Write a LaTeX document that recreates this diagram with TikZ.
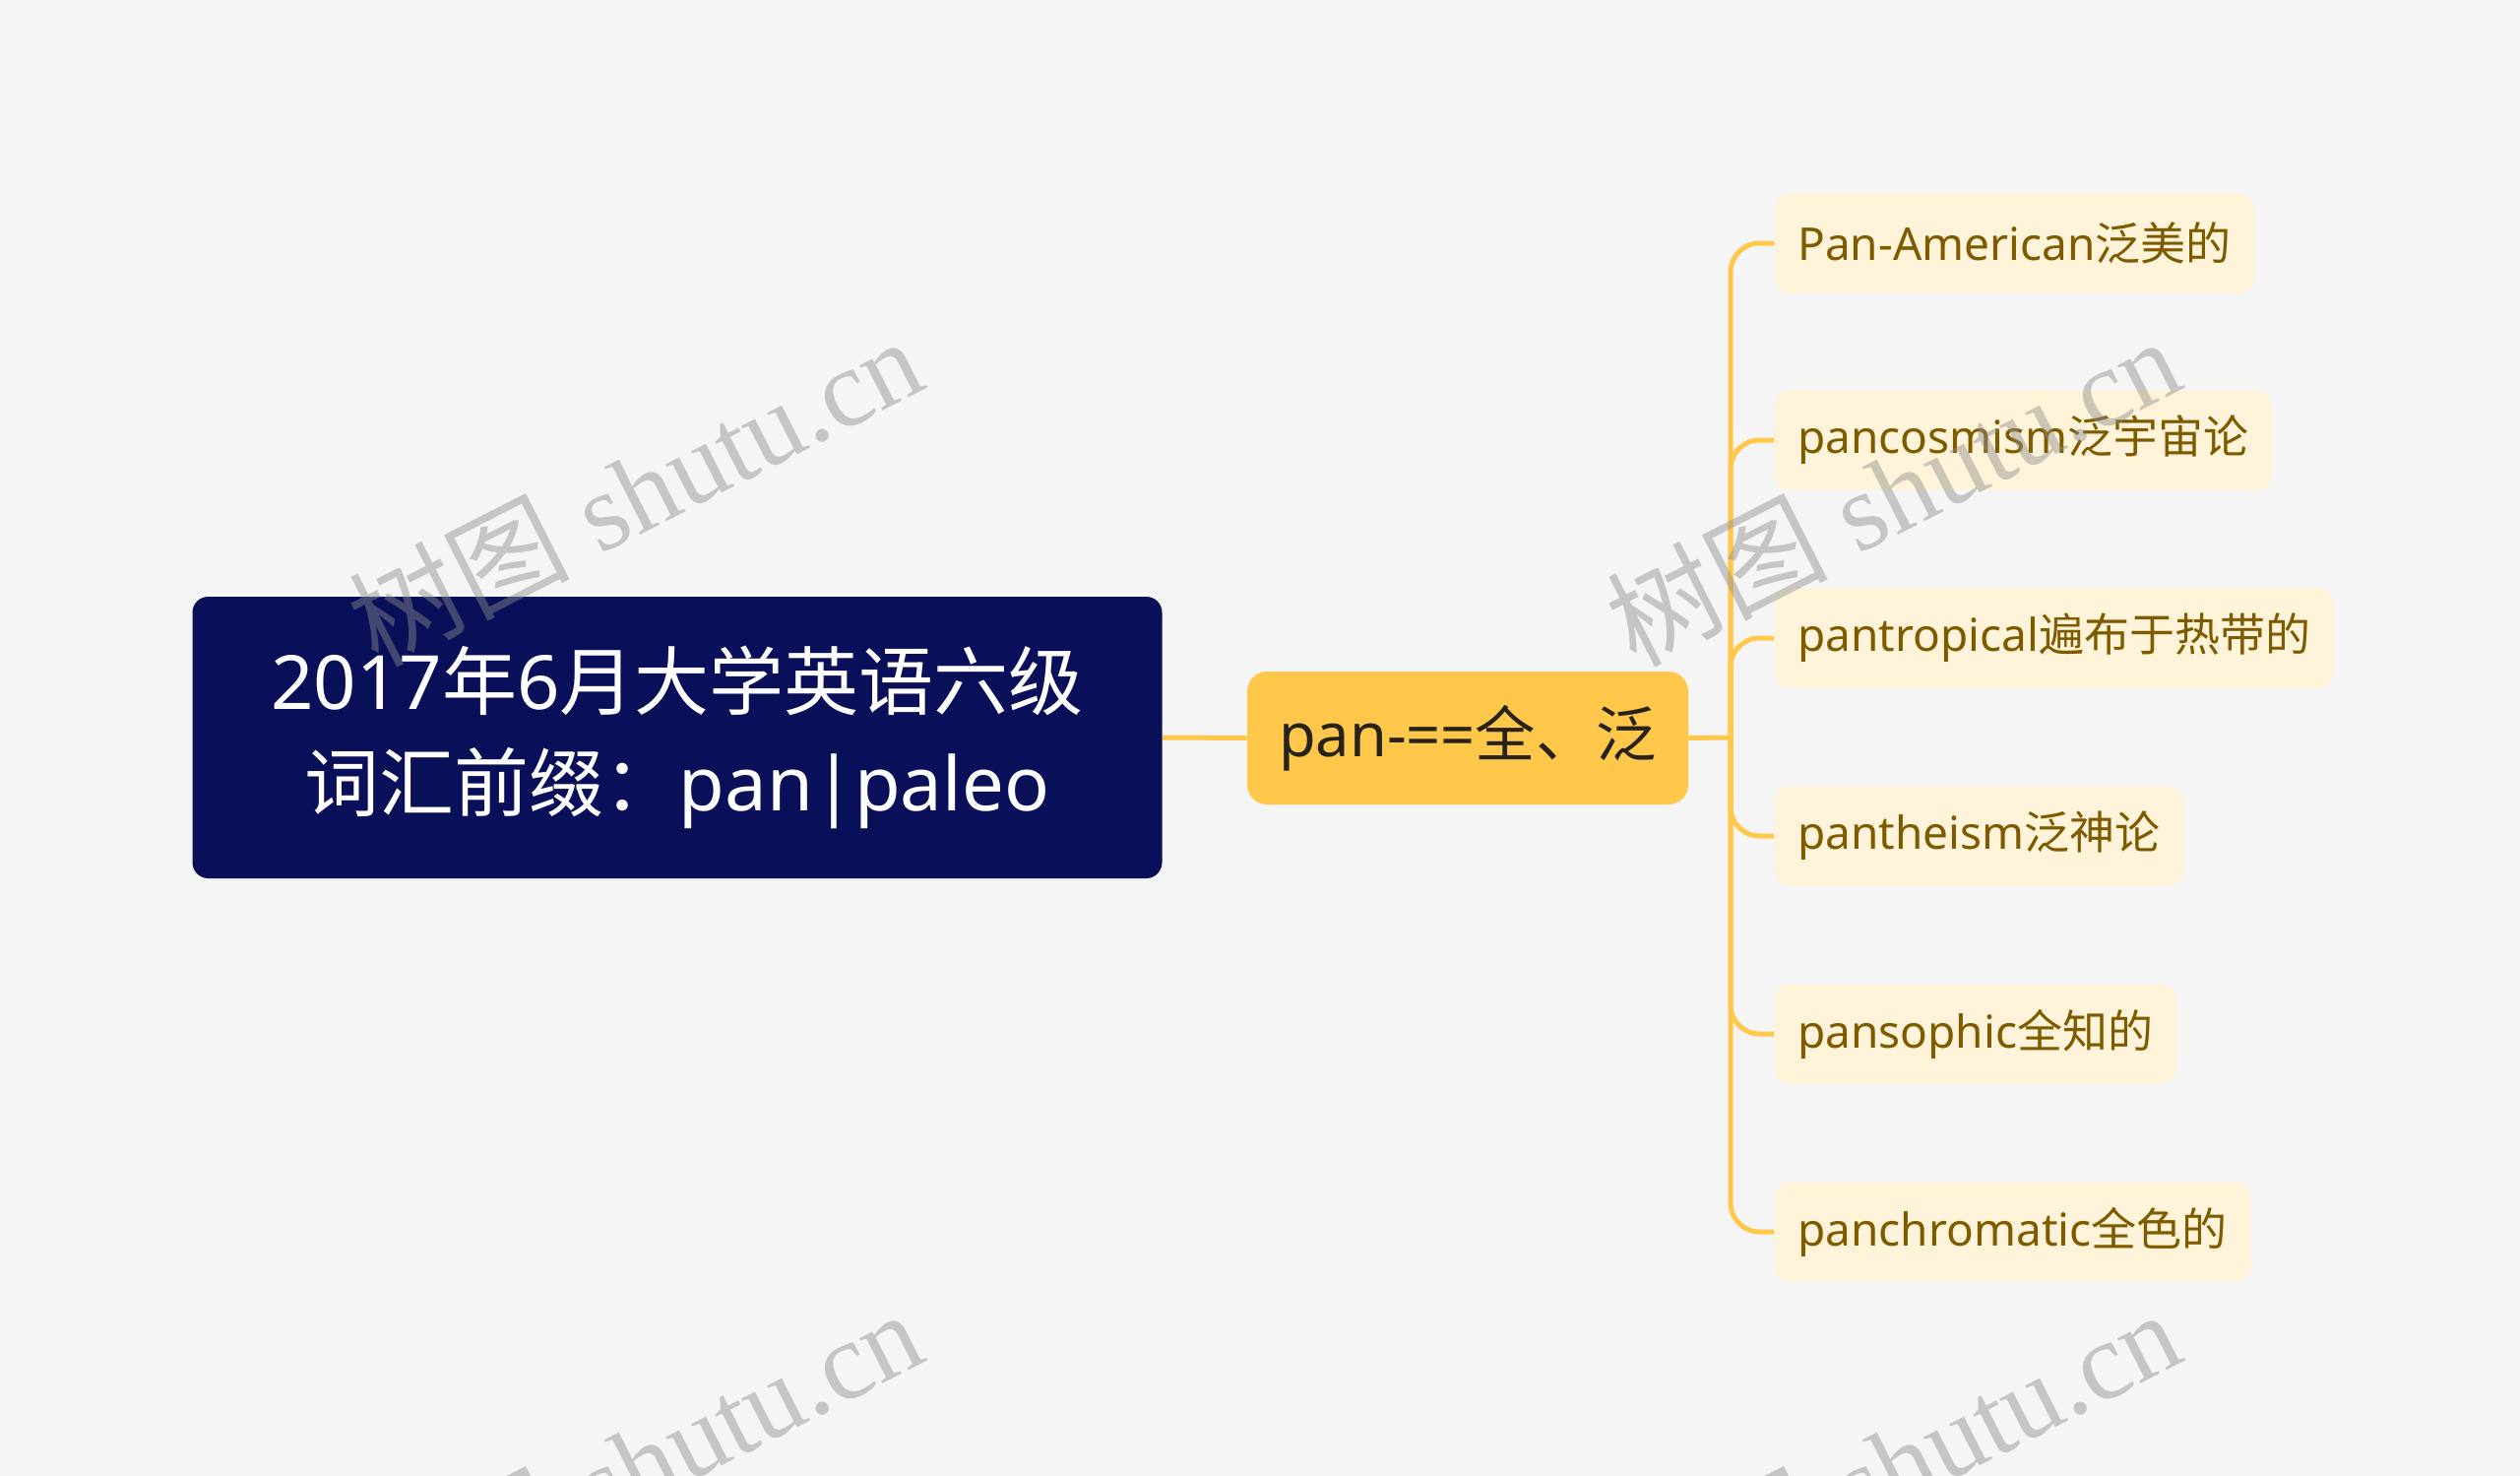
\documentclass[tikz,border=0pt]{standalone}
\usepackage{fontspec}
\setmainfont{Noto Sans}
\newfontfamily\cjk{Noto Sans CJK SC}
\newfontfamily\wmserif{Liberation Serif}
\definecolor{rootblue}{RGB}{10,15,89}
\definecolor{panyellow}{RGB}{255,200,75}
\definecolor{panink}{RGB}{40,35,25}
\definecolor{leafcream}{RGB}{255,244,218}
\definecolor{leafbrown}{RGB}{127,91,0}
\definecolor{bggray}{RGB}{245,245,245}
\definecolor{markgray}{RGB}{140,140,140}

\begin{document}
\begin{tikzpicture}[x=0.75pt,y=0.75pt,yscale=-1,xscale=1,
  rootbox/.style={fill=rootblue, text=white, rounded corners=12pt, minimum width=738.75pt, minimum height=214.5pt, align=center, font=\fontsize{57}{77}\selectfont},
  panbox/.style={fill=panyellow, text=panink, rounded corners=15pt, minimum width=336pt, minimum height=101.25pt, font=\fontsize{46}{52}\selectfont},
  leafbox/.style={fill=leafcream, text=leafbrown, rounded corners=12pt, minimum height=75.75pt, inner xsep=18pt, anchor=west, font=\fontsize{34.5}{40}\selectfont},
  link/.style={draw=panyellow, line width=3.75pt},
  watermark/.style={text=markgray, opacity=0.45, rotate=27, font=\fontsize{84}{90}\selectfont}]
%set diagram to 2560 x 1499
\fill[bggray] (0,0) rectangle (2560,1499);
\useasboundingbox (0,0) rectangle (2560,1499);

\node[rootbox] (root) at (688,749) {2017{\cjk 年}6{\cjk 月大学英语六级}\\{\cjk 词汇前缀：}pan|paleo};
\node[panbox] (pan) at (1491,749.5) {pan-=={\cjk 全、泛}};

\node[leafbox] (american) at (1802,247) {Pan-American{\cjk 泛美的}};
\node[leafbox] (cosmism) at (1802,447) {pancosmism{\cjk 泛宇宙论}};
\node[leafbox] (tropical) at (1802,648) {pantropical{\cjk 遍布于热带的}};
\node[leafbox] (theism) at (1802,849) {pantheism{\cjk 泛神论}};
\node[leafbox] (sophic) at (1802,1050) {pansophic{\cjk 全知的}};
\node[leafbox] (chromatic) at (1802,1251) {panchromatic{\cjk 全色的}};

\coordinate (fork) at (1758,749);
\draw[link] (root.east) -- (pan.west);
\draw[link] (pan.east) -- (fork);
\foreach \leaf in {american,cosmism,tropical,theism,sophic,chromatic}
  \draw[link, rounded corners=22pt] (fork) |- (\leaf.west);

%watermarks
\foreach \wx in {645,1923}
  \foreach \wy in {498,1486}
    \node[watermark] (wm-\wx-\wy) at (\wx,\wy) {{\cjk 树图} {\wmserif shutu.cn}};

\end{tikzpicture}
\end{document}
